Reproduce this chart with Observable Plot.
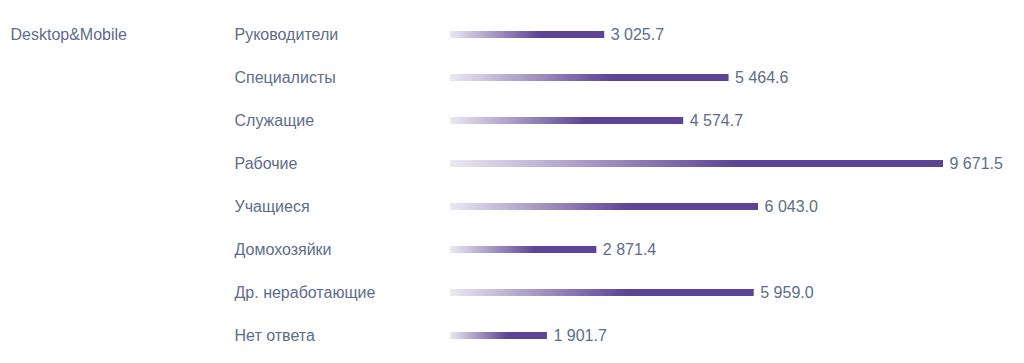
<!DOCTYPE html>
<html>
<head>
<meta charset="utf-8">
<script src="https://cdn.jsdelivr.net/npm/d3@7"></script>
<script src="https://cdn.jsdelivr.net/npm/@observablehq/plot@0.6"></script>
<style>
  html, body { margin: 0; padding: 0; background: #fff; }
</style>
</head>
<body>
<div id="chart"></div>
<script>
const groupLabel = "Desktop&Mobile";
const categories = ["Руководители", "Специалисты", "Служащие", "Рабочие", "Учащиеся", "Домохозяйки", "Др. неработающие", "Нет ответа"];
const values = [3025.7, 5464.6, 4574.7, 9671.5, 6043.0, 2871.4, 5959.0, 1901.7];

const data = categories.map((c, i) => ({category: c, value: values[i], first: i === 0}));
const fmt = d3.formatLocale({decimal: ".", thousands: " ", grouping: [3], currency: ["", ""]}).format(",.1f");
const textColor = "#5d6d8a";

const defs = () => {
  const g = d3.create("svg:defs");
  const lg = g.append("linearGradient").attr("id", "barGrad").attr("x1", "0").attr("x2", "1").attr("y1", "0").attr("y2", "0");
  lg.append("stop").attr("offset", "0%").attr("stop-color", "#ebe8f2");
  lg.append("stop").attr("offset", "58%").attr("stop-color", "#5e4496");
  lg.append("stop").attr("offset", "100%").attr("stop-color", "#5e4496");
  return g.node();
};

const chart = Plot.plot({
  width: 1024,
  height: 363,
  marginLeft: 450,
  marginRight: 81,
  marginTop: 10,
  marginBottom: 3,
  style: {fontFamily: "'Liberation Sans', Arial, sans-serif", fontSize: "16px", background: "#fff"},
  x: {domain: [0, 9671.5], axis: null},
  y: {domain: categories, axis: null, padding: 0},
  marks: [
    defs,
    Plot.barX(data, {x: "value", y: "category", fill: "url(#barGrad)", insetTop: 18, insetBottom: 18}),
    Plot.text(data, {x: "value", y: "category", text: d => fmt(d.value), textAnchor: "start", dx: 6, fill: textColor}),
    Plot.text(data, {x: 0, y: "category", text: "category", textAnchor: "start", dx: -216, fill: textColor}),
    Plot.text(data.filter(d => d.first), {x: 0, y: "category", text: () => groupLabel, textAnchor: "start", dx: -440, fill: textColor})
  ]
});
document.getElementById("chart").append(chart);
</script>
</body>
</html>
